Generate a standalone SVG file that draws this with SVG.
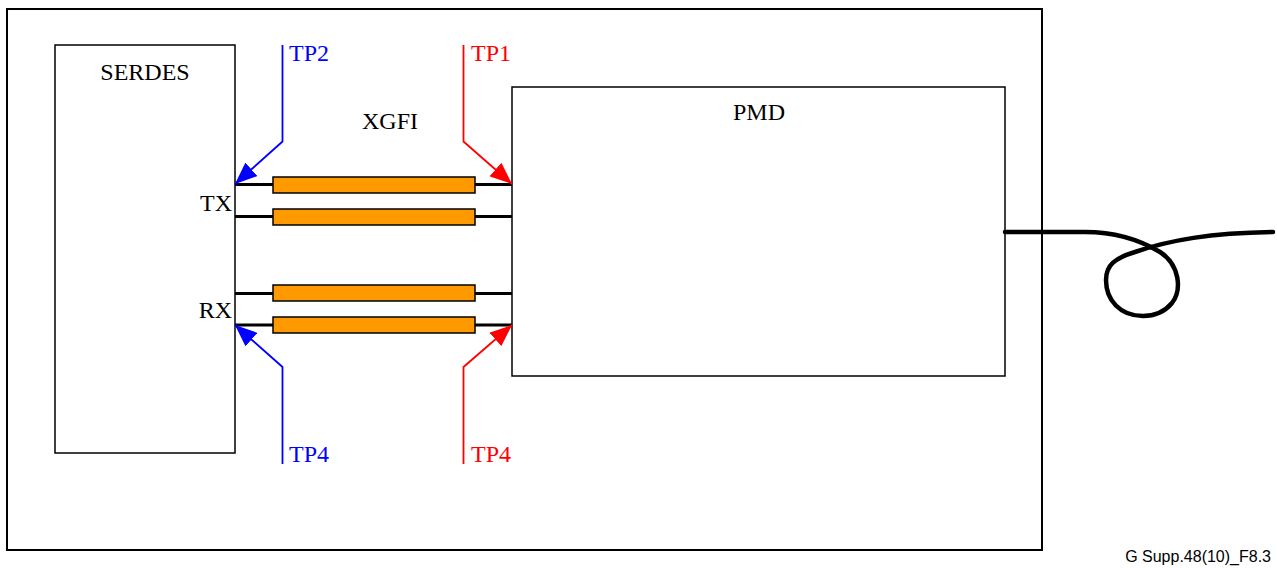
<svg xmlns="http://www.w3.org/2000/svg" width="1277" height="568" viewBox="0 0 1277 568">
<style>
.box{fill:#fff;stroke:#000;stroke-width:1.5}
.t{font-family:"Liberation Serif",serif;font-size:24px;fill:#000}
.sig{stroke:#000;stroke-width:2.8;fill:none}
.bar{fill:#FF9900;stroke:#000;stroke-width:1.5}
.blue{stroke:#0000FF;stroke-width:1.8;fill:none}
.red{stroke:#FF0000;stroke-width:1.8;fill:none}
</style>
<defs>
<marker id="ab" markerWidth="22" markerHeight="18" refX="22" refY="9" orient="auto" markerUnits="userSpaceOnUse"><path d="M0,0 L22,9 L0,18 Z" fill="#0000FF"/></marker>
<marker id="ar" markerWidth="22" markerHeight="18" refX="22" refY="9" orient="auto" markerUnits="userSpaceOnUse"><path d="M0,0 L22,9 L0,18 Z" fill="#FF0000"/></marker>
</defs>
<rect width="1277" height="568" fill="#fff"/>
<rect id="outer" x="7" y="9" width="1035" height="541" fill="none" stroke="#000" stroke-width="2"/>
<g id="serdes">
<rect class="box" x="55" y="45" width="180" height="408"/>
<text class="t" x="145" y="80" text-anchor="middle">SERDES</text>
<text class="t" x="232" y="211" text-anchor="end">TX</text>
<text class="t" x="232" y="318" text-anchor="end">RX</text>
</g>
<g id="pmd">
<rect class="box" x="512" y="87" width="493" height="289"/>
<text class="t" x="759" y="120" text-anchor="middle">PMD</text>
</g>
<g id="xgfi">
<text class="t" x="390" y="129" text-anchor="middle">XGFI</text>
</g>
<g id="connectors">
<line class="sig" x1="235" y1="184.5" x2="512" y2="184.5"/>
<line class="sig" x1="235" y1="216.5" x2="512" y2="216.5"/>
<line class="sig" x1="235" y1="293.5" x2="512" y2="293.5"/>
<line class="sig" x1="235" y1="325" x2="512" y2="325"/>
<rect class="bar" x="273" y="177" width="202" height="16"/>
<rect class="bar" x="273" y="209" width="202" height="16"/>
<rect class="bar" x="273" y="285" width="202" height="16"/>
<rect class="bar" x="273" y="317" width="202" height="16"/>
<polyline class="blue" points="282.5,45 282.5,141.5 235,184" marker-end="url(#ab)"/>
<polyline class="red" points="463.5,45 463.5,141.5 512,184" marker-end="url(#ar)"/>
<polyline class="blue" points="282.5,464 282.5,367 235,325" marker-end="url(#ab)"/>
<polyline class="red" points="463.5,464 463.5,367 512,325" marker-end="url(#ar)"/>
<path d="M1005,232 L1085,232 C1115,232 1140,240 1160,252 C1180,265 1182,290 1172,303 C1162,315 1150,316 1143,316 C1120,316 1106,300 1106,280 C1106,265 1115,258 1135,252 C1170,240 1210,233 1273,232" fill="none" stroke="#000" stroke-width="4.5" stroke-linecap="round"/>
</g>
<g id="labels">
<text class="t" x="289" y="61" style="fill:#0000FF">TP2</text>
<text class="t" x="471" y="61" style="fill:#FF0000">TP1</text>
<text class="t" x="289" y="462" style="fill:#0000FF">TP4</text>
<text class="t" x="471" y="462" style="fill:#FF0000">TP4</text>
<text x="1271" y="562" text-anchor="end" font-family="Liberation Sans, Arial, sans-serif" font-size="16" fill="#000">G Supp.48(10)_F8.3</text>
</g>
</svg>
